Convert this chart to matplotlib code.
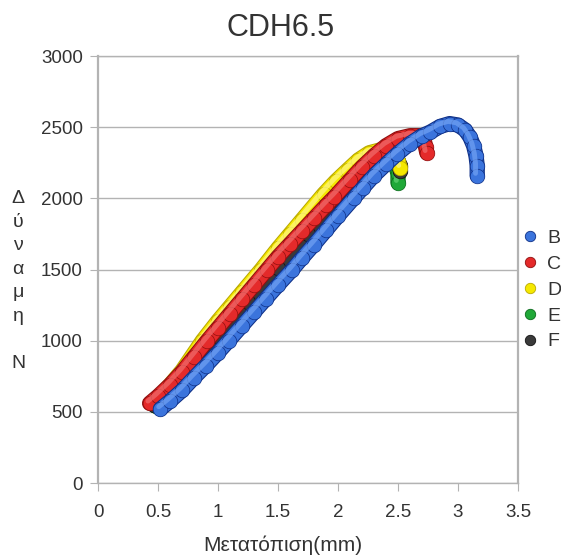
import matplotlib
matplotlib.use("Agg")
import matplotlib.pyplot as plt
import matplotlib.patheffects as pe
from matplotlib.lines import Line2D
from matplotlib.transforms import offset_copy

plt.rcParams['font.family'] = ['Liberation Sans', 'DejaVu Sans']

title = "CDH6.5"
xlabel = "Μετατόπιση(mm)"
ylabel = "Δ\nύ\nν\nα\nμ\nη\n\nN"
series_names = ["B", "C", "D", "E", "F"]
xticks = [0, 0.5, 1, 1.5, 2, 2.5, 3, 3.5]
xtick_labels = ["0", "0.5", "1", "1.5", "2", "2.5", "3", "3.5"]
yticks = [0, 500, 1000, 1500, 2000, 2500, 3000]

B_x = [0.52, 0.6, 0.7, 0.8, 0.9, 1.0, 1.09, 1.2, 1.3, 1.4, 1.5, 1.62, 1.7, 1.8, 1.9, 2.0, 2.13,
       2.21, 2.3, 2.4, 2.49, 2.6, 2.7, 2.77, 2.85, 2.93, 3.0, 3.06, 3.1, 3.13, 3.15, 3.16, 3.16]
B_y = [520, 575, 650, 740, 825, 915, 1000, 1105, 1200, 1295, 1390, 1500, 1580, 1675, 1775, 1875, 2000,
       2075, 2160, 2240, 2310, 2385, 2440, 2466, 2505, 2525, 2515, 2480, 2430, 2370, 2300, 2230, 2160]

C_x = [0.43, 0.5, 0.6, 0.7, 0.8, 0.91, 1.0, 1.1, 1.2, 1.3, 1.41, 1.5, 1.6, 1.7, 1.8, 1.9, 1.97,
       2.1, 2.2, 2.3, 2.4, 2.5, 2.6, 2.68, 2.72, 2.73, 2.74]
C_y = [560, 610, 690, 780, 885, 1000, 1090, 1190, 1290, 1390, 1500, 1590, 1680, 1770, 1860, 1950, 2010,
       2130, 2220, 2300, 2370, 2420, 2440, 2440, 2400, 2360, 2320]

D_x = [0.47, 0.6, 0.7, 0.87, 1.0, 1.1, 1.2, 1.36, 1.5, 1.6, 1.7, 1.88, 1.98, 2.08, 2.17, 2.26,
       2.35, 2.44, 2.5, 2.52]
D_y = [570, 690, 790, 1000, 1140, 1240, 1340, 1500, 1650, 1750, 1850, 2030, 2120, 2200, 2270, 2320,
       2340, 2310, 2260, 2215]

E_x = [0.48, 0.7, 1.0, 1.25, 1.5, 1.75, 2.0, 2.15, 2.3, 2.42, 2.48, 2.5, 2.5]
E_y = [540, 740, 1020, 1260, 1500, 1740, 1980, 2110, 2220, 2270, 2240, 2170, 2110]

F_x = [0.47, 0.7, 1.0, 1.25, 1.5, 1.75, 2.0, 2.15, 2.3, 2.45, 2.5, 2.52, 2.52]
F_y = [550, 750, 1030, 1270, 1510, 1750, 1990, 2120, 2230, 2280, 2260, 2230, 2195]

series = [(B_x, B_y), (C_x, C_y), (D_x, D_y), (E_x, E_y), (F_x, F_y)]
colors = ["#3b74dc", "#e42a2a", "#f5e800", "#20a838", "#3a3a3a"]
dark = ["#0e2f86", "#8e0e0e", "#b9a800", "#0b6a1c", "#111111"]
light = ["#6fa0f2", "#f06a6a", "#fff680", "#5fd070", "#8a8a8a"]
zorders = [10, 8, 7, 4, 5]

fig = plt.figure(figsize=(5.61, 5.58), dpi=100)
ax = fig.add_axes([98/561, 1-483/558, 420/561, 427/558])

grid_c = "#b3b3b3"
for i, (xs, ys) in enumerate(series):
    z = zorders[i]
    ax.plot(xs, ys, color=colors[i], lw=9.5, solid_capstyle='round', solid_joinstyle='round',
            zorder=z, path_effects=[pe.Stroke(linewidth=11.0, foreground=dark[i]), pe.Normal()])
    ax.plot(xs, ys, linestyle='none', marker='o', ms=10.5, mfc=colors[i], mec=dark[i], mew=0.5,
            zorder=z + 0.1)
    tr = offset_copy(ax.transData, fig=fig, x=-1.2, y=1.6, units='points')
    ax.plot(xs, ys, color=light[i], lw=3.5, solid_capstyle='round', transform=tr,
            zorder=z + 0.2, alpha=0.75)

ax.set_xlim(0, 3.5)
ax.set_ylim(0, 3000)
ax.set_xticks(xticks)
ax.set_xticklabels(xtick_labels)
ax.set_yticks(yticks)
ax.yaxis.grid(True, color=grid_c, lw=1.0)
ax.set_axisbelow(True)
for s in ax.spines.values():
    s.set_color(grid_c)
    s.set_linewidth(1.0)
ax.spines['left'].set_linewidth(1.6)
ax.spines['right'].set_linewidth(1.6)
ax.tick_params(axis='both', direction='out', length=6, color=grid_c, labelsize=13.5,
               labelcolor="#333333", pad=5)
ax.tick_params(axis='x', pad=9)

fig.text(281/561, 1-28/558, title, ha='center', va='center', fontsize=22, color="#333333")
fig.text(283/561, 1-545/558, xlabel, ha='center', va='center', fontsize=15, color="#333333")
fig.text(18/561, 1-281/558, ylabel, ha='center', va='center', fontsize=14, color="#333333",
         linespacing=1.5)

handles = [Line2D([], [], linestyle='none', marker='o', ms=7.5, mfc=colors[i], mec=dark[i], mew=0.6)
           for i in range(5)]
fig.legend(handles, series_names, loc='center left', bbox_to_anchor=(522/561, 1-290/558),
           frameon=False, fontsize=14, handlelength=0.8, handletextpad=0.5, labelspacing=0.42,
           borderpad=0, borderaxespad=0, labelcolor="#333333")

fig.savefig("out.png", dpi=100)
